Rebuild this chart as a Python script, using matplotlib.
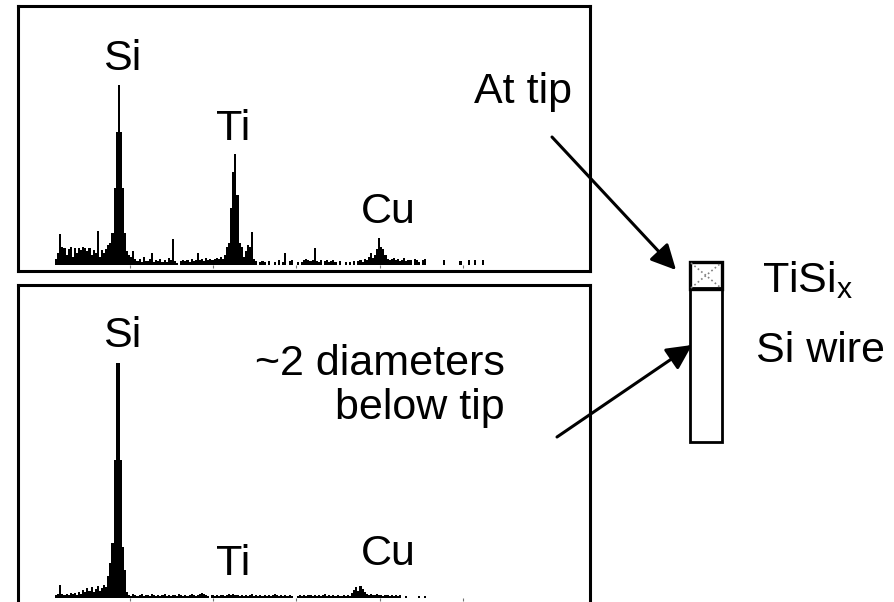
import matplotlib.pyplot as plt
import matplotlib.patches as mpatches
import numpy as np

plt.rcParams['font.family'] = ['Liberation Sans', 'DejaVu Sans']
plt.rcParams['mathtext.fontset'] = 'custom'
plt.rcParams['mathtext.rm'] = 'Liberation Sans'
plt.rcParams['mathtext.it'] = 'Liberation Sans'

# EDS spectra, 0.05 keV channels starting at 0.24 keV (intensity, arbitrary units)
e0 = 0.24
de = 0.05
tip_counts = [
    6, 12, 31, 18, 17, 10, 16, 18, 8, 17, 12, 17, 15, 18, 17, 14, 17, 10, 15, 12,
    34, 8, 15, 12, 16, 20, 22, 32, 77, 133, 180, 133, 77, 32, 14, 10, 8, 14, 6, 4,
    6, 3, 8, 4, 4, 6, 12, 3, 5, 4, 6, 3, 5, 3, 7, 5, 26, 4, 2, 0,
    4, 5, 4, 5, 3, 6, 4, 5, 12, 5, 6, 4, 7, 5, 6, 5, 6, 7, 6, 8,
    6, 10, 18, 22, 57, 93, 111, 70, 22, 18, 8, 14, 20, 18, 33, 6, 4, 0, 3, 4,
    3, 0, 4, 0, 0, 3, 0, 5, 0, 3, 12, 0, 4, 5, 0, 0, 3, 0, 3, 5,
    6, 5, 4, 5, 17, 4, 3, 5, 0, 4, 5, 3, 4, 5, 3, 0, 4, 0, 0, 3,
    0, 3, 0, 4, 0, 4, 5, 3, 6, 5, 8, 12, 7, 10, 16, 27, 18, 16, 10, 6,
    5, 6, 7, 5, 6, 4, 5, 7, 4, 5, 5, 0, 6, 5, 3, 0, 5, 6, 0, 0,
    0, 0, 0, 0, 0, 0, 5, 0, 0, 0, 0, 0, 0, 0, 4, 0, 0, 0, 5, 0,
    0, 5, 0, 0, 0, 5,
]
below_counts = [
    3, 4, 13, 4, 3, 4, 3, 5, 4, 5, 3, 6, 4, 8, 6, 10, 7, 11, 6, 9,
    12, 7, 10, 13, 11, 22, 35, 55, 138, 235, 235, 138, 51, 28, 6, 3, 2, 4, 3, 2,
    3, 4, 2, 3, 3, 2, 4, 3, 2, 3, 2, 3, 4, 2, 3, 2, 3, 3, 2, 4,
    3, 2, 3, 2, 3, 4, 3, 2, 3, 4, 5, 4, 3, 2, 0, 3, 2, 3, 2, 3,
    3, 2, 3, 4, 3, 4, 3, 3, 2, 3, 2, 3, 2, 3, 4, 2, 3, 2, 3, 2,
    3, 2, 3, 2, 3, 4, 3, 2, 3, 2, 3, 2, 3, 2, 0, 0, 2, 3, 2, 3,
    2, 3, 3, 2, 3, 2, 3, 2, 3, 4, 2, 3, 2, 3, 2, 3, 2, 2, 3, 2,
    3, 2, 5, 8, 11, 7, 12, 9, 6, 4, 3, 4, 3, 3, 4, 3, 3, 2, 3, 3,
    2, 3, 2, 3, 2, 3, 0, 0, 2, 0, 0, 0, 0, 0, 2, 0, 0, 2,
]
tick_kev = [2, 4, 6, 8, 10]
labels = ['Si', 'Ti', 'Cu']
tip_label_kev = [1.83, 4.49, 8.2]
tip_label_y = [195, 125, 42]
below_label_kev = [1.83, 4.49, 8.2]
below_label_y = [251, 23, 33]

fig = plt.figure(figsize=(8.95, 6.02), dpi=100)
W, H = 895, 602
xlim = (-0.676, 13.046)


def panel(top_px, bottom_px, counts, lab_x, lab_y):
    ax = fig.add_axes([18 / W, 1 - bottom_px / H, 572 / W, (bottom_px - top_px) / H])
    e = e0 + de * np.arange(len(counts))
    ax.bar(e, counts, width=de, color='black', linewidth=0)
    ax.vlines(tick_kev, -2.5, 0, color='0.45', lw=0.8)
    ax.set_xlim(*xlim)
    ax.set_ylim(-6, bottom_px - top_px - 6)
    ax.set_xticks([])
    ax.set_yticks([])
    for s in ax.spines.values():
        s.set_linewidth(2.2)
    for t, x, y in zip(labels, lab_x, lab_y):
        ax.text(x, y, t, fontsize=31, ha='center', va='baseline')
    return ax


panel(6, 271, tip_counts, tip_label_kev, tip_label_y)
panel(285, 604, below_counts, below_label_kev, below_label_y)

# overlay in pixel coordinates for the wire sketch and arrows
ov = fig.add_axes([0, 0, 1, 1])
ov.set_xlim(0, W)
ov.set_ylim(H, 0)
ov.axis('off')

ov.text(572, 103, 'At tip', fontsize=31, ha='right', va='baseline')
ov.text(505, 375, '~2 diameters', fontsize=31, ha='right', va='baseline')
ov.text(505, 419, 'below tip', fontsize=31, ha='right', va='baseline')
ov.text(762, 292, 'TiSi$_\\mathrm{x}$', fontsize=31, ha='left', va='baseline')
ov.text(756, 362, 'Si wire', fontsize=31, ha='left', va='baseline')

arrow = dict(arrowstyle='-|>', lw=2.2, color='black', mutation_scale=38, shrinkA=0, shrinkB=0)
ov.annotate('', xy=(676, 270), xytext=(552, 137), arrowprops=arrow)
ov.annotate('', xy=(692, 345), xytext=(557, 437), arrowprops=arrow)

ov.add_patch(mpatches.Rectangle((690, 288), 32, 154, fill=False, lw=2, ec='black'))
ov.plot([691, 721], [263, 288], color='0.5', lw=1.2, ls=':')
ov.plot([691, 721], [288, 263], color='0.5', lw=1.2, ls=':')
ov.add_patch(mpatches.Rectangle((690, 262), 32, 27, fill=False, lw=2.4, ec='black'))

fig.savefig('out.png', dpi=100)
